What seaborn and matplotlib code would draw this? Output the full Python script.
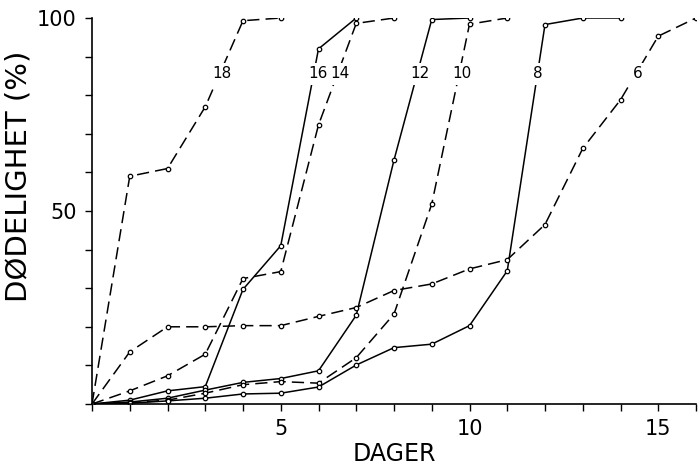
import matplotlib
matplotlib.use("Agg")
import matplotlib.pyplot as plt
import seaborn as sns
import pandas as pd

# Cumulative mortality (%) per day, one curve per temperature
days_18 = [0, 1, 2, 3, 4, 5]
mort_18 = [0, 59, 61, 77, 99.3, 100]

days_16 = [0, 1, 2, 3, 4, 5, 6, 7]
mort_16 = [0, 1.0, 3.4, 4.5, 29.7, 41, 92, 100]

days_14 = [0, 1, 2, 3, 4, 5, 6, 7, 8]
mort_14 = [0, 3.4, 7.3, 12.9, 32.5, 34.3, 72.3, 98.6, 100]

days_12 = [0, 1, 2, 3, 4, 5, 6, 7, 8, 9, 10]
mort_12 = [0, 0.5, 1.5, 3.6, 5.6, 6.6, 8.6, 23, 63.2, 99.6, 100]

days_10 = [0, 1, 2, 3, 4, 5, 6, 7, 8, 9, 10, 11]
mort_10 = [0, 0.3, 1.0, 2.8, 5.0, 5.8, 5.4, 12, 23.3, 51.8, 98.4, 100]

days_8 = [0, 1, 2, 3, 4, 5, 6, 7, 8, 9, 10, 11, 12, 13, 14]
mort_8 = [0, 0.2, 0.8, 1.5, 2.6, 2.8, 4.4, 10.1, 14.6, 15.5, 20.3, 34.5, 98.3, 100, 100]

days_6 = [0, 1, 2, 3, 4, 5, 6, 7, 8, 9, 10, 11, 12, 13, 14, 15, 16]
mort_6 = [0, 13.5, 20, 20, 20.3, 20.3, 22.7, 25, 29.4, 31.1, 35, 37.4, 46.5, 66.2, 78.8, 95.3, 100]

temps = ["18", "16", "14", "12", "10", "8", "6"]
label_days = [3.43, 5.98, 6.57, 8.7, 9.8, 11.8, 14.45]
label_mort = [85.5, 85.5, 85.5, 85.5, 85.5, 85.5, 85.5]

x_ticks = list(range(0, 17))
x_ticklabels = ["" if d not in (5, 10, 15) else str(d) for d in x_ticks]
y_ticks = list(range(0, 101, 10))
y_ticklabels = ["50" if v == 50 else ("100" if v == 100 else "") for v in y_ticks]

series = {
    "18": (days_18, mort_18, "dashed"),
    "16": (days_16, mort_16, "solid"),
    "14": (days_14, mort_14, "dashed"),
    "12": (days_12, mort_12, "solid"),
    "10": (days_10, mort_10, "dashed"),
    "8": (days_8, mort_8, "solid"),
    "6": (days_6, mort_6, "dashed"),
}

sns.set_style("ticks")
plt.rcParams["font.family"] = ["DejaVu Sans"]

fig = plt.figure(figsize=(6.98, 4.72), dpi=100)
ax = fig.add_axes([92 / 698, 1 - 404 / 472, 604 / 698, 386 / 472])

for temp in temps:
    d, m, style = series[temp]
    df = pd.DataFrame({"dag": d, "dodelighet": m})
    sns.lineplot(data=df, x="dag", y="dodelighet", ax=ax, color="black",
                 linewidth=1.1, marker="o", markersize=3.2,
                 markerfacecolor="white", markeredgecolor="black",
                 markeredgewidth=0.9, legend=False)
    line = ax.lines[-1]
    if style == "dashed":
        line.set_dashes((8, 4))

# temperature labels sit in small gaps cut out of their curves
for t, xd, yd in zip(temps, label_days, label_mort):
    ax.text(xd, yd, t, ha="center", va="center", fontsize=11, color="black",
            zorder=5,
            bbox=dict(facecolor="white", edgecolor="none", pad=2.5))

ax.set_xlim(0, 16)
ax.set_ylim(0, 100)
ax.set_xticks(x_ticks)
ax.set_xticklabels(x_ticklabels, fontsize=15)
ax.set_yticks(y_ticks)
ax.set_yticklabels(y_ticklabels, fontsize=15)
ax.tick_params(axis="both", direction="out", length=5, width=1, color="black",
               labelcolor="black", pad=6)
sns.despine(ax=ax)
for s in ("left", "bottom"):
    ax.spines[s].set_linewidth(1.2)
    ax.spines[s].set_color("black")

ax.set_xlabel("DAGER", fontsize=17, labelpad=2, color="black")
ax.set_ylabel("DØDELIGHET (%)", fontsize=21, color="black")
ax.yaxis.set_label_coords(-0.098, 0.59)

fig.savefig("out.png", dpi=100, facecolor="white")
